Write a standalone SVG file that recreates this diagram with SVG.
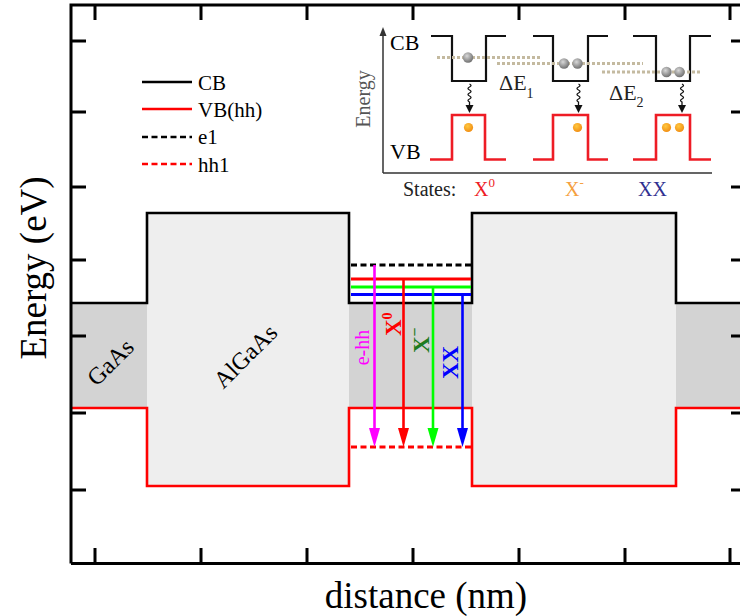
<svg xmlns="http://www.w3.org/2000/svg" width="740" height="616" viewBox="0 0 740 616">
<defs>
<style>
text{font-family:"Liberation Serif","DejaVu Serif",serif;}
.ax{stroke:#000;stroke-width:3;fill:none;}
.tk{stroke:#000;stroke-width:3;}
.cb{stroke:#000;stroke-width:2.6;fill:none;}
.vb{stroke:#ff0000;stroke-width:2.6;fill:none;}
.icb{stroke:#111;stroke-width:2.2;fill:none;}
.ivb{stroke:#ee1c25;stroke-width:2.6;fill:none;}
.dot{stroke:#c4baa0;stroke-width:3;stroke-dasharray:3 2;}
.wav{stroke:#111;stroke-width:1.3;fill:none;}
.lvl{stroke-width:3;}
.arr{stroke-width:2.6;fill:none;}
</style>
<radialGradient id="gE" cx="0.4" cy="0.35" r="0.7">
<stop offset="0" stop-color="#d8d8d8"/><stop offset="1" stop-color="#6a6a6a"/>
</radialGradient>
<radialGradient id="gH" cx="0.4" cy="0.35" r="0.7">
<stop offset="0" stop-color="#ffc840"/><stop offset="1" stop-color="#f08a10"/>
</radialGradient>
<marker id="mM" markerUnits="userSpaceOnUse" markerWidth="12" markerHeight="20" refX="6" refY="18" orient="auto-start-reverse" viewBox="0 0 12 20"><path d="M0.5,0 L11.5,0 L6,19 Z" fill="#ff00ff"/></marker>
</defs>
<rect width="740" height="616" fill="#fff"/>

<g id="bands">
<rect x="71" y="303" width="669" height="105" fill="#d3d3d3"/>
<rect x="147" y="213" width="202" height="273" fill="#eeeeee"/>
<rect x="472" y="213" width="204" height="273" fill="#eeeeee"/>
<path class="cb" d="M71,303 H147 V213 H349 V303 H472 V213 H676 V303 H740"/>
<path class="vb" d="M71,408 H147 V486 H349 V408 H472 V486 H676 V408 H740"/>
<text x="111" y="370" font-size="24" text-anchor="middle" transform="rotate(-45 111 363)">GaAs</text>
<text x="246" y="364" font-size="24" text-anchor="middle" transform="rotate(-45 246 357)">AlGaAs</text>
</g>

<g id="axes">
<path class="ax" d="M71,563.5 V5 H740 M71,563.5 H740"/>
<path class="tk" d="M95,5 V20 M201,5 V20 M307,5 V20 M413,5 V20 M519,5 V20 M625,5 V20 M730,5 V20"/>
<path class="tk" d="M95,563 V548 M201,563 V548 M307,563 V548 M413,563 V548 M519,563 V548 M625,563 V548 M730,563 V548"/>
<path class="tk" d="M71,41 H86 M71,112 H86 M71,187 H86 M71,260 H86 M71,336 H86 M71,413 H86 M71,490 H86"/>
<path class="tk" d="M731,41 H740 M731,112 H740 M731,187 H740 M731,260 H740 M731,336 H740 M731,413 H740 M731,490 H740"/>
<text x="426" y="608" font-size="37" text-anchor="middle">distance (nm)</text>
<text x="0" y="0" font-size="37" text-anchor="middle" transform="translate(46 268) rotate(-90)">Energy (eV)</text>
</g>

<g id="legend">
<line x1="142" y1="82" x2="192" y2="82" stroke="#000" stroke-width="2.5"/>
<line x1="142" y1="109" x2="192" y2="109" stroke="#ff0000" stroke-width="2.5"/>
<line x1="142" y1="137" x2="192" y2="137" stroke="#000" stroke-width="2.5" stroke-dasharray="6 3.5"/>
<line x1="142" y1="164" x2="192" y2="164" stroke="#ff0000" stroke-width="2.5" stroke-dasharray="6 3.5"/>
<text x="198" y="89.5" font-size="21">CB</text>
<text x="198" y="116.5" font-size="21">VB(hh)</text>
<text x="198" y="144" font-size="21">e1</text>
<text x="198" y="171.5" font-size="21">hh1</text>
</g>

<g id="levels">
<line class="lvl" x1="351" y1="265" x2="471" y2="265" stroke="#000" stroke-dasharray="6 3.5"/>
<line class="lvl" x1="351" y1="279" x2="471" y2="279" stroke="#ff0000"/>
<line class="lvl" x1="351" y1="287" x2="471" y2="287" stroke="#00ff00"/>
<line class="lvl" x1="351" y1="294.5" x2="471" y2="294.5" stroke="#0000ff"/>
<line class="lvl" x1="351" y1="447" x2="471" y2="447" stroke="#ff0000" stroke-dasharray="6 3.5"/>
</g>

<g id="connectors">
<line class="arr" x1="374.5" y1="265" x2="374.5" y2="432" stroke="#ff00ff"/>
<path d="M369,428 L380,428 L374.5,447 Z" fill="#ff00ff"/>
<line class="arr" x1="403.5" y1="279" x2="403.5" y2="432" stroke="#ff0000"/>
<path d="M398,428 L409,428 L403.5,447 Z" fill="#ff0000"/>
<line class="arr" x1="433" y1="287" x2="433" y2="432" stroke="#00ff00"/>
<path d="M427.5,428 L438.5,428 L433,447 Z" fill="#00ff00"/>
<line class="arr" x1="462.5" y1="294.5" x2="462.5" y2="432" stroke="#0000ff"/>
<path d="M457,428 L468,428 L462.5,447 Z" fill="#0000ff"/>
</g>

<g id="transition-labels">
<text x="0" y="0" font-size="20" fill="#ff00ff" text-anchor="middle" transform="translate(369 347.5) rotate(-90)">e-hh</text>
<text x="0" y="0" font-size="23" font-weight="bold" fill="#ff0000" transform="translate(401 336) rotate(-90)">X<tspan font-size="14" dy="-9">0</tspan></text>
<text x="0" y="0" font-size="23" font-weight="bold" fill="#1e7b1e" transform="translate(429 353) rotate(-90)">X<tspan font-size="16" dy="-9">−</tspan></text>
<text x="0" y="0" font-size="23" font-weight="bold" fill="#0000ff" transform="translate(458 379) rotate(-90)">XX</text>
</g>

<g id="inset">
<path d="M383,173 V34 M383,173 H712" stroke="#333" stroke-width="1.5" fill="none"/>
<path d="M379.5,36 L383,27 L386.5,36 Z" fill="#333"/>
<text x="0" y="0" font-size="20" fill="#555" text-anchor="middle" transform="translate(370 99) rotate(-90)">Energy</text>
<text x="390" y="49.5" font-size="22">CB</text>
<text x="390" y="158.5" font-size="22">VB</text>

<path class="icb" d="M431,36 H452 V81 H486 V36 H506"/>
<path class="icb" d="M533,36 H553 V81 H588 V36 H608"/>
<path class="icb" d="M633,36 H656 V81 H690 V36 H711"/>
<path class="ivb" d="M430,159.5 H452 V115 H485 V159.5 H506"/>
<path class="ivb" d="M533,159.5 H553 V115 H588 V159.5 H608"/>
<path class="ivb" d="M633,159.5 H656 V115 H690 V159.5 H711"/>

<line class="dot" x1="437" y1="57.5" x2="542" y2="57.5"/>
<line class="dot" x1="497" y1="63.5" x2="643" y2="63.5"/>
<line class="dot" x1="602" y1="72" x2="702" y2="72"/>

<circle cx="468" cy="57.5" r="5.2" fill="url(#gE)"/>
<circle cx="564" cy="63.5" r="5.2" fill="url(#gE)"/>
<circle cx="577.5" cy="63.5" r="5.2" fill="url(#gE)"/>
<circle cx="666.5" cy="72" r="5.2" fill="url(#gE)"/>
<circle cx="679.5" cy="72" r="5.2" fill="url(#gE)"/>

<circle cx="468.5" cy="127.5" r="4.6" fill="url(#gH)"/>
<circle cx="577.5" cy="127.5" r="4.6" fill="url(#gH)"/>
<circle cx="666.5" cy="127.5" r="4.6" fill="url(#gH)"/>
<circle cx="679.5" cy="127.5" r="4.6" fill="url(#gH)"/>

<path class="wav" d="M469.5,84 q3,1.5 0,3 t0,3 t0,3 t0,3 t0,3 t0,3 V106"/>
<path d="M465.5,105 L473.5,105 L469.5,113 Z" fill="#111"/>
<path class="wav" d="M578.5,84 q3,1.5 0,3 t0,3 t0,3 t0,3 t0,3 t0,3 V106"/>
<path d="M574.5,105 L582.5,105 L578.5,113 Z" fill="#111"/>
<path class="wav" d="M682,84 q3,1.5 0,3 t0,3 t0,3 t0,3 t0,3 t0,3 V106"/>
<path d="M678,105 L686,105 L682,113 Z" fill="#111"/>

<text x="499" y="90" font-size="22" fill="#222">ΔE<tspan font-size="14" dy="8">1</tspan></text>
<text x="609" y="100" font-size="22" fill="#222">ΔE<tspan font-size="14" dy="7">2</tspan></text>

<text x="403" y="196" font-size="20" fill="#222">States:</text>
<text x="474" y="196" font-size="20" fill="#ee1c25">X<tspan font-size="13" dy="-9">0</tspan></text>
<text x="565" y="196" font-size="20" fill="#f5a040">X<tspan font-size="13" dy="-9">-</tspan></text>
<text x="638" y="196" font-size="20" fill="#303090">XX</text>
</g>
</svg>
